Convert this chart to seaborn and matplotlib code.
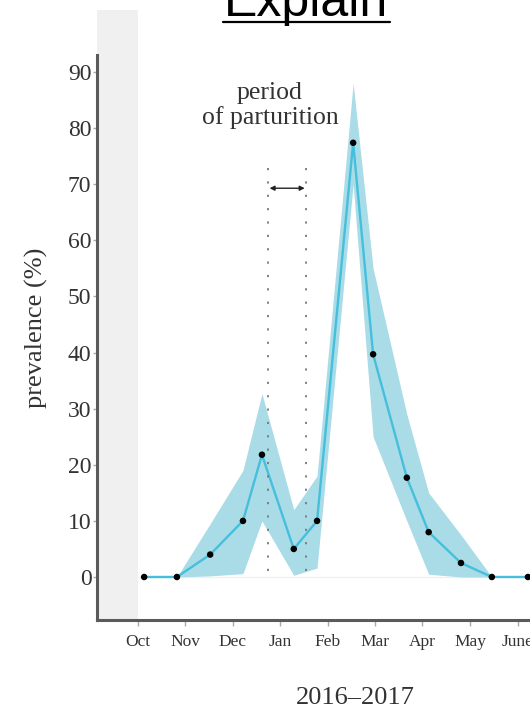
import numpy as np
import pandas as pd
import matplotlib
matplotlib.use("Agg")
import matplotlib.pyplot as plt
from matplotlib.lines import Line2D
import seaborn as sns

# ======= Data =================================

# sample dates, in months since 1 Oct 2016
sample_month = [0.14, 0.83, 1.53, 2.22, 2.62, 3.29, 3.78, 4.54, 4.96, 5.67, 6.13, 6.81, 7.46, 8.22]
prevalence = [0, 0, 4, 10, 21.8, 5, 10, 77.4, 39.7, 17.7, 8, 2.5, 0, 0]
ci_low = [0, 0, 0.2, 0.6, 10, 0.3, 1.6, 70, 25, 10, 0.5, 0, 0, 0]
ci_high = [0, 0, 9.5, 19, 32.7, 12, 18, 88, 55, 29, 15, 7.5, 0, 0]

month_labels = ["Oct", "Nov", "Dec", "Jan", "Feb", "Mar", "Apr", "May", "June"]
y_ticks = [0, 10, 20, 30, 40, 50, 60, 70, 80, 90]

# period of parturition (months since 1 Oct)
parturition = [2.75, 3.55]

df = pd.DataFrame({"month": sample_month, "prev": prevalence, "lo": ci_low, "hi": ci_high})

# ======= Style ========

sns.set_style("white")
plt.rcParams["font.family"] = ["Liberation Serif", "DejaVu Serif"]

line_col = "#45bfdc"
band_col = "#a9dce7"
text_col = "#333333"

fig = plt.figure(figsize=(5.30, 7.17), dpi=100)
# axes run past the right edge of the figure (cropped like the reference)
ax = fig.add_axes([97 / 530, 97 / 717, 448 / 530, 610 / 717])

x_left = (97 - 137.5) / 47.5
x_right = (545 - 137.5) / 47.5
y_bot = (577 - 620) / 5.61
y_top = (577 - 10) / 5.61
ax.set_xlim(x_left, x_right)
ax.set_ylim(y_bot, y_top)

# grey shading before October
ax.axvspan(x_left, 0.0, color="#f0f0f0", lw=0, zorder=0)
ax.axhline(0, color="#f0f0f0", lw=1, zorder=0.5)

# confidence band, line and points
ax.fill_between(df["month"], df["lo"], df["hi"], color=band_col, lw=0, zorder=1)
sns.lineplot(data=df, x="month", y="prev", ax=ax, color=line_col, lw=1.7, zorder=2)
sns.scatterplot(data=df, x="month", y="prev", ax=ax, color="black", s=22,
                edgecolor="none", zorder=3, clip_on=False)

# parturition period
ax.vlines(parturition, 1, 74, colors="#777777", lw=1.3,
          linestyles=[(0, (1.2, 6.2))], zorder=2.5)
ax.annotate("", xy=(parturition[0] + 0.03, 69.3), xytext=(parturition[1] - 0.03, 69.3),
            arrowprops=dict(arrowstyle="<|-|>", color="#222222", lw=1,
                            mutation_scale=7, shrinkA=0, shrinkB=0))
ax.text(2.79, 84, "period\nof parturition", ha="center", va="center",
        fontsize=18.5, color=text_col, linespacing=1.1)

# ======= Axes ========

for side in ["top", "right"]:
    ax.spines[side].set_visible(False)
for side in ["left", "bottom"]:
    ax.spines[side].set_color("#5a5a5a")
    ax.spines[side].set_linewidth(2.2)
ax.spines["left"].set_bounds(y_bot, 93)

ax.set_yticks(y_ticks)
ax.set_yticklabels([str(v) for v in y_ticks], fontsize=17, color=text_col)
ax.set_xticks(range(len(month_labels)))
ax.set_xticklabels(month_labels, fontsize=12.5, color=text_col)
ax.tick_params(axis="y", length=3, width=1, color="#aaaaaa", pad=1, left=True)
ax.tick_params(axis="x", length=4, width=1, color="#aaaaaa", pad=6, bottom=True)

ax.set_ylabel("prevalence (%)", fontsize=19, color=text_col)
ax.yaxis.set_label_coords(-0.11, 0.479)
ax.set_xlabel("2016\u20132017", fontsize=19, color=text_col)
ax.xaxis.set_label_coords(0.576, -0.110)

# slide title, cut off at the top of the picture
fig.text(306 / 530, 1 - 16 / 717, "Explain", ha="center", va="baseline",
         fontsize=36, family="Liberation Sans", color="black")
fig.add_artist(Line2D([223 / 530, 390 / 530], [1 - 22 / 717, 1 - 22 / 717],
                      color="black", lw=1.6, transform=fig.transFigure))

fig.savefig("out.png", dpi=100)
